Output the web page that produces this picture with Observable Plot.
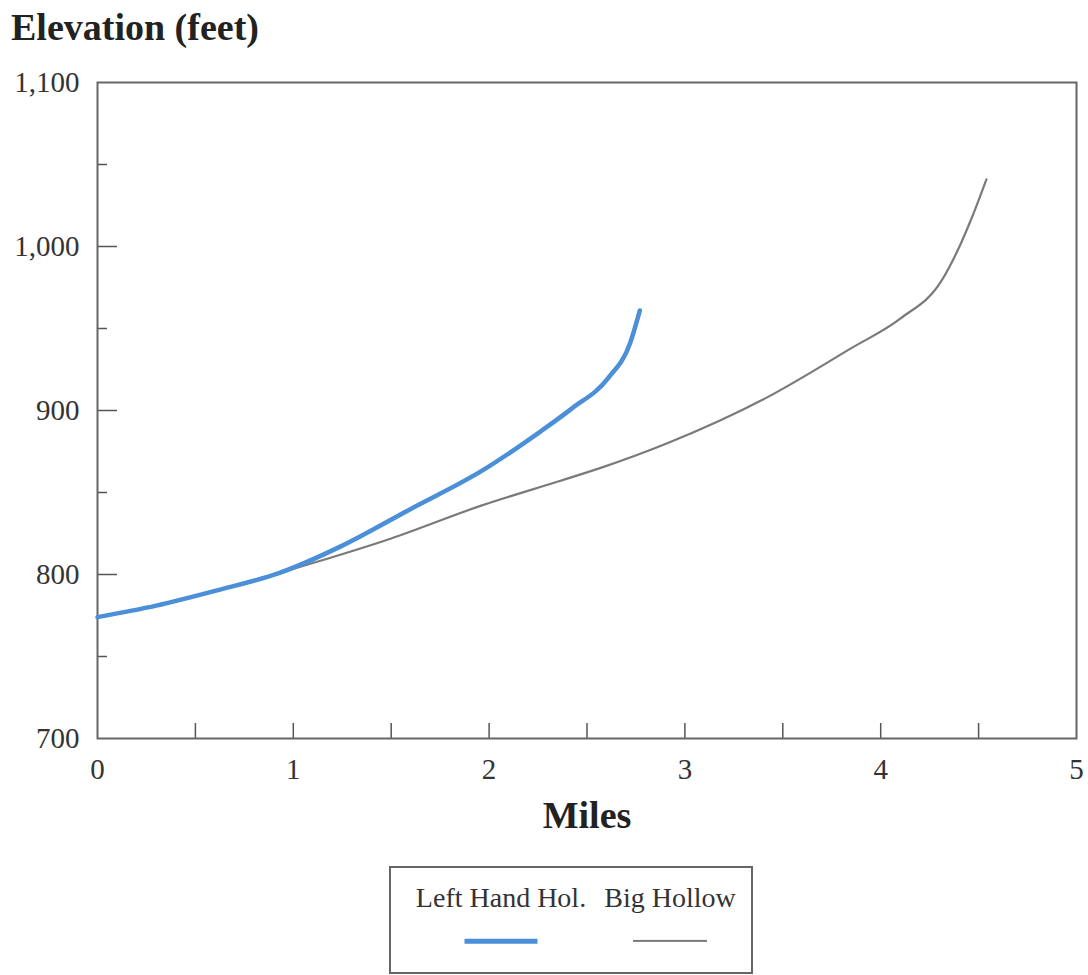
<!DOCTYPE html>
<html>
<head>
<meta charset="utf-8">
<script src="https://cdn.jsdelivr.net/npm/d3@7"></script>
<script src="https://cdn.jsdelivr.net/npm/@observablehq/plot@0.6"></script>
<style>
  html, body { margin: 0; padding: 0; background: #fff; }
  body { width: 1088px; height: 975px; position: relative; font-family: "Liberation Serif", "DejaVu Serif", serif; }
  #title { height: 55px; padding-left: 11px; font-size: 38px; font-weight: bold; color: #222; line-height: 54px; }
  #legend { position: absolute; left: 389px; top: 866px; width: 360px; height: 104px; border: 2px solid #666; box-sizing: content-box; }
  .item { position: absolute; top: 14px; font-size: 28px; color: #333; transform: translateX(-50%); white-space: nowrap; }
  .swatch { position: absolute; transform: translate(-50%, -50%); }
</style>
</head>
<body>
<div id="title">Elevation (feet)</div>
<div id="chart"></div>
<div id="legend"></div>
<script>
// Data
const seriesNames = ["Left Hand Hol.", "Big Hollow"];
const seriesColors = ["#4a8fd8", "#7a7a7a"];
const seriesWidths = [4.5, 2.2];

const leftMiles = [0, 0.3, 0.6, 0.93, 1.24, 1.6, 1.96, 2.26, 2.42, 2.61, 2.72, 2.77];
const leftElev  = [774, 781, 790, 801, 817, 840, 863, 887, 901, 920, 941, 961];

const bigMiles = [0, 0.3, 0.6, 0.93, 1.1, 1.5, 1.96, 2.36, 2.57, 2.91, 3.42, 3.85, 4.1, 4.31, 4.41, 4.46, 4.54];
const bigElev  = [774, 781, 790, 801, 807, 822, 842, 857, 865, 880, 908, 938, 956, 979, 1002, 1016, 1041];

const xTicks = [0, 1, 2, 3, 4, 5];
const xMinorTicks = [0.5, 1, 1.5, 2, 2.5, 3, 3.5, 4, 4.5];
const yTicks = [700, 800, 900, 1000, 1100];
const yMajorInner = [800, 900, 1000];
const yMinorTicks = [750, 850, 950, 1050];

const left = leftMiles.map((m, i) => ({miles: m, elev: leftElev[i]}));
const big = bigMiles.map((m, i) => ({miles: m, elev: bigElev[i]}));

const chart = Plot.plot({
  width: 1088,
  height: 800,
  marginLeft: 97,
  marginRight: 12,
  marginTop: 27,
  marginBottom: 117,
  style: {fontFamily: "'Liberation Serif', serif", background: "#fff"},
  x: {domain: [0, 5]},
  y: {domain: [700, 1100]},
  marks: [
    Plot.axisX(xTicks, {tickSize: 0, tickPadding: 20, fontSize: 29, fill: "#333", tickFormat: d3.format("d"), label: null}),
    Plot.axisX(xMinorTicks, {tickSize: -15, tickFormat: () => "", stroke: "#555", strokeWidth: 1.5, label: null}),
    Plot.axisY(yTicks, {tickSize: 0, tickPadding: 18, fontSize: 29, fill: "#333", tickFormat: d3.format(","), label: null}),
    Plot.axisY(yMajorInner, {tickSize: -20, tickFormat: () => "", stroke: "#555", strokeWidth: 1.5, label: null}),
    Plot.axisY(yMinorTicks, {tickSize: -10, tickFormat: () => "", stroke: "#555", strokeWidth: 1.5, label: null}),
    Plot.frame({stroke: "#666", strokeWidth: 2}),
    Plot.line(big, {x: "miles", y: "elev", stroke: seriesColors[1], strokeWidth: seriesWidths[1], curve: "monotone-x"}),
    Plot.line(left, {x: "miles", y: "elev", stroke: seriesColors[0], strokeWidth: seriesWidths[0], curve: "monotone-x"}),
    Plot.text(["Miles"], {frameAnchor: "bottom", dy: 77, fontSize: 38, fontWeight: "bold", fill: "#222", lineAnchor: "middle"})
  ]
});
document.getElementById("chart").appendChild(chart);

// Legend
const legend = document.getElementById("legend");
const itemCenters = [110, 279];
const swatchLen = [73, 74];
seriesNames.forEach((name, i) => {
  const t = document.createElement("div");
  t.className = "item";
  t.style.left = itemCenters[i] + "px";
  t.textContent = name;
  legend.appendChild(t);
  const s = document.createElement("div");
  s.className = "swatch";
  s.style.left = itemCenters[i] + "px";
  s.style.top = "73px";
  s.style.width = swatchLen[i] + "px";
  s.style.height = seriesWidths[i] + "px";
  s.style.background = seriesColors[i];
  legend.appendChild(s);
});
</script>
</body>
</html>
